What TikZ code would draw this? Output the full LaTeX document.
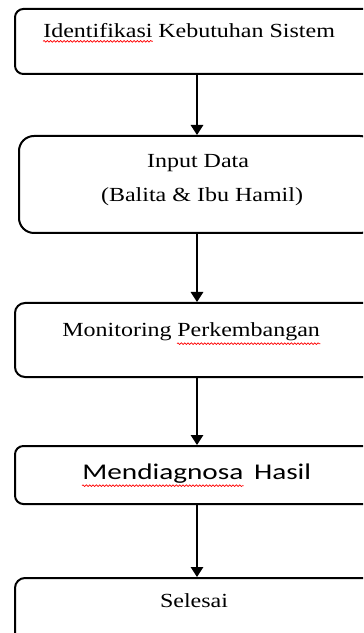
\documentclass[tikz,border=0pt]{standalone}
\usepackage{fontspec}
\setmainfont[FakeStretch=1.2]{Liberation Serif}
\newfontfamily\calibrifont[FakeStretch=1.3]{Carlito}
\usetikzlibrary{arrows.meta,decorations.pathmorphing}

\tikzset{
    box/.style={draw, line width=1.2pt, rounded corners=5pt, inner sep=0pt, anchor=north, minimum width=218.4pt},
    txt/.style={anchor=base, inner sep=0pt, font=\fontsize{12}{14}\selectfont},
    word/.style={txt, anchor=base west},
    arr/.style={line width=0.8pt, -{Triangle[width=7.5pt,length=6pt]}},
    % red wavy line of the spell checker
    spell/.style={red, line width=0.4pt, decorate, decoration={snake, amplitude=0.5pt, segment length=2pt}}
}

\begin{document}
\begin{tikzpicture}[x=0.6pt, y=-0.6pt]
    \useasboundingbox (0,0) rectangle (363,633);
    \clip (0,0) rectangle (363,633);

    \node[box, minimum height=39pt] (b1) at (197,8) {};
    \node[box, minimum height=58.2pt, minimum width=213.6pt, rounded corners=9pt] (b2) at (197,135) {};
    \node[box, minimum height=44.4pt, rounded corners=6pt] (b3) at (197,302) {};
    \node[box, minimum height=34.8pt] (b4) at (197,445) {};
    \node[box, minimum height=42pt, rounded corners=6pt] (b5) at (197,577) {};

    \node[word] (t1a) at (43,38) {Identifikasi};
    \node[word] (t1b) at ([xshift=3pt]t1a.base east) {Kebutuhan Sistem};
    \node[txt] (t2) at (198,168) {Input Data};
    \node[txt] (t2b) at (202,202) {(Balita \& Ibu Hamil)};
    \node[word] (t3a) at (62,337) {Monitoring};
    \node[word] (t3b) at ([xshift=3pt]t3a.base east) {Perkembangan};
    \node[word, font=\calibrifont\fontsize{13.5}{16}\selectfont] (t4a) at (82,479) {Mendiagnosa};
    \node[word, font=\calibrifont\fontsize{13.5}{16}\selectfont] (t4b) at ([xshift=6pt]t4a.base east) {Hasil};
    \node[txt] (t5) at (194,607) {Selesai};

    \draw[spell] ([yshift=-2pt]t1a.base west) -- ([yshift=-2pt]t1a.base east);
    \draw[spell] ([yshift=-4pt]t3b.base west) -- ([yshift=-4pt]t3b.base east);
    \draw[spell] ([yshift=-4pt]t4a.base west) -- ([yshift=-4pt]t4a.base east);

    \draw[arr] (b1) -- (b2);
    \draw[arr] (b2) -- (b3);
    \draw[arr] (b3) -- (b4);
    \draw[arr] (b4) -- (b5);
\end{tikzpicture}
\end{document}
